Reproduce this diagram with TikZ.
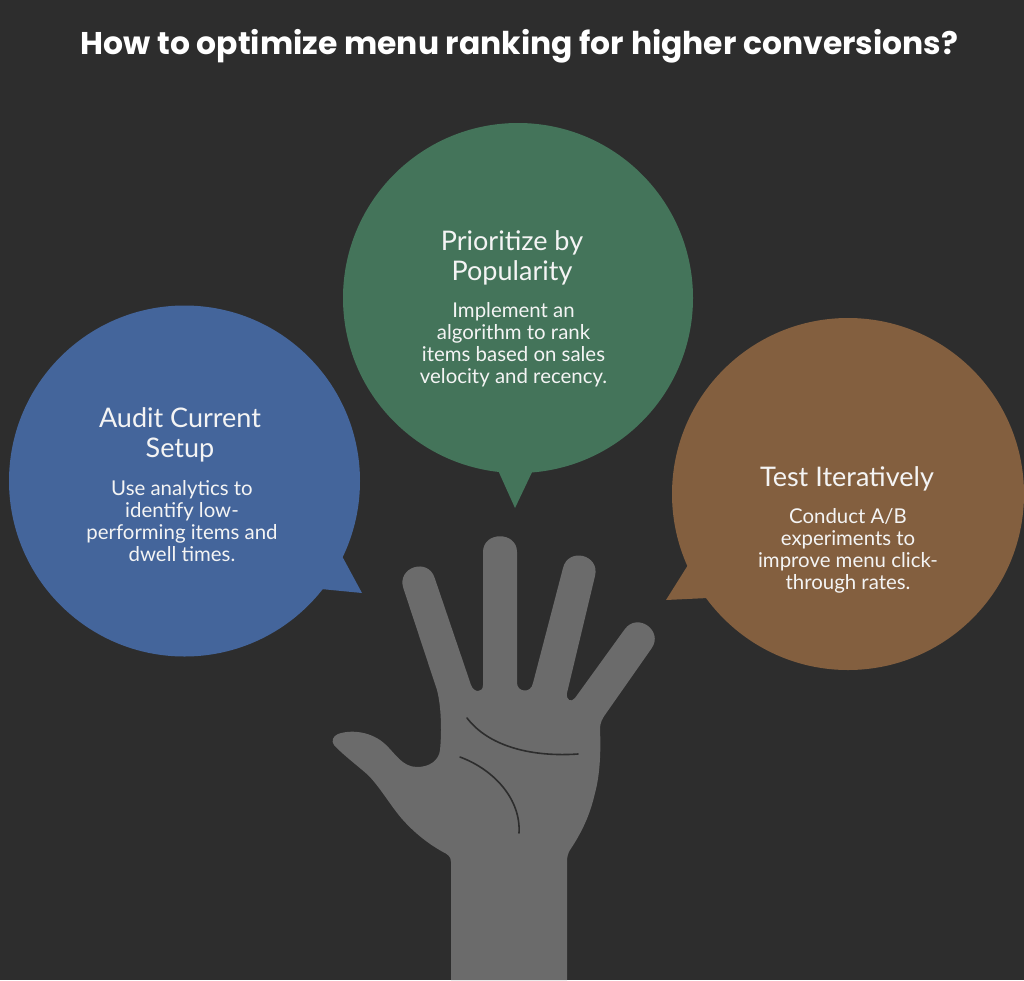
\documentclass[tikz,border=0pt]{standalone}
\usepackage{fontspec}
\setmainfont{Lato}
\newfontfamily\titlefont{Poppins}
\definecolor{bgc}{HTML}{2D2D2D}
\definecolor{greenc}{HTML}{44745A}
\definecolor{bluec}{HTML}{44659B}
\definecolor{brownc}{HTML}{835F3F}
\definecolor{handc}{HTML}{6B6B6B}
\definecolor{txt}{HTML}{F4F4F4}
\tikzset{
  headtext/.style={text=txt,align=center,inner sep=0pt,font=\fontsize{27}{30}\selectfont},
  bodytext/.style={text=txt,align=center,inner sep=0pt,font=\fontsize{20.4}{22}\selectfont},
  palmline/.style={draw=bgc,line width=1.6pt,line cap=round}
}
\begin{document}
\begin{tikzpicture}[x=1pt,y=-1pt]
\useasboundingbox (0,0) rectangle (1024,980);
\fill[bgc] (0,0) rectangle (1024,980);
\node[text=white,inner sep=0pt,anchor=base,font=\titlefont\bfseries\fontsize{31.4}{36}\selectfont] (title) at (519.5,54) {How to optimize menu ranking for higher conversions?};
% bubbles
\fill[greenc] (518,298) circle (175);
\fill[greenc] (497,468) -- (515,508) -- (534,468) -- cycle;
\fill[bluec] (184.5,481) circle (175.5);
\fill[bluec] (342,556) -- (362,593) -- (321,589) -- cycle;
\fill[brownc] (848,494) circle (176);
\fill[brownc] (688,565) -- (666,600) -- (708,598) -- cycle;
% hand
\fill[handc] (451,980) -- (451,862)
 .. controls (451,856) and (447,854) .. (443,852)
 .. controls (425,842) and (412,830) .. (403,820)
 .. controls (392,808) and (380,787) .. (368,775)
 .. controls (358,766) and (342,754) .. (334,745)
 .. controls (331,741) and (333,736) .. (338,734)
 .. controls (352,729) and (372,732) .. (385,744)
 .. controls (395,753) and (402,767) .. (417,767)
 .. controls (430,767) and (439,760) .. (440,750)
 .. controls (442,730) and (441,705) .. (437,690)
 -- (403.3,588)
 .. controls (396.7,567.1) and (428.1,557.1) .. (434.7,578)
 -- (471,685)
 .. controls (474,693) and (483,693) .. (483,685)
 -- (483,552)
 .. controls (483,531) and (517,531) .. (517,552)
 -- (517,683)
 .. controls (517,692) and (531,694) .. (533,683)
 -- (563,568)
 .. controls (568.3,546.7) and (600.3,554.7) .. (595,576)
 -- (567,693)
 .. controls (566,700) and (571,703) .. (575,698)
 -- (624.6,629.4)
 .. controls (637.4,611.6) and (664.2,630.8) .. (651.4,648.6)
 -- (607,712)
 .. controls (602,719) and (600,722) .. (600,730)
 .. controls (601,750) and (600,775) .. (595,793)
 .. controls (590,815) and (582,832) .. (570,850)
 .. controls (568,853) and (567,857) .. (567,862)
 -- (567,980) -- cycle;
\draw[palmline] (467,718) .. controls (490,748) and (535,757) .. (578,754);
\draw[palmline] (460,757) .. controls (495,770) and (521,800) .. (519,833);
% texts
\node[headtext] (h2) at (512,258) {Prioritize by\\Popularity};
\node[bodytext] (b2) at (513.5,345) {Implement an\\algorithm to rank\\items based on sales\\velocity and recency.};
\node[headtext] (h1) at (180,434.5) {Audit Current\\Setup};
\node[bodytext] (b1) at (182,521) {Use analytics to\\identify low-\\performing items and\\dwell times.};
\node[headtext] (h3) at (847,479) {Test Iteratively};
\node[bodytext] (b3) at (848,551) {Conduct A/B\\experiments to\\improve menu click-\\through rates.};
\end{tikzpicture}
\end{document}
